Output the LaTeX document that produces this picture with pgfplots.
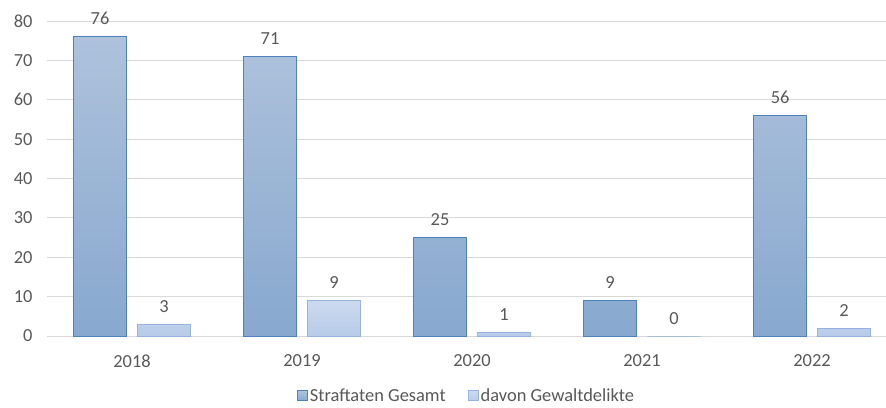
\documentclass[border=0pt]{standalone}
\usepackage{pgfplots}
\pgfplotsset{compat=1.18}
\usepackage{fontspec}
\setmainfont{Carlito}
\definecolor{txt}{HTML}{595959}
\definecolor{gridgray}{HTML}{D9D9D9}
\definecolor{aTop}{HTML}{AEC2DC}
\definecolor{aBot}{HTML}{88A8CF}
\definecolor{aEdge}{HTML}{4F81BD}
\definecolor{bTop}{HTML}{CCDAEE}
\definecolor{bBot}{HTML}{B7CBE8}
\definecolor{bEdge}{HTML}{95B3DE}
\newcommand{\lbl}{\fontsize{18.5}{21}\selectfont}
\begin{document}
\begin{tikzpicture}[x=1bp,y=1bp]
\path[use as bounding box] (-47,-71) rectangle (839,336);
\begin{axis}[
  at={(0,0)}, anchor=south west,
  scale only axis,
  width=839bp, height=315bp,
  ybar, bar width=0.312,
  xmin=-0.5, xmax=4.435,
  ymin=0, ymax=80,
  ytick={0,10,...,80},
  xtick=data,
  xticklabels={2018,2019,2020,2021,2022},
  axis y line*=left, axis x line*=bottom,
  y axis line style={draw=none},
  x axis line style={draw=gridgray, line width=1bp},
  major tick length=0pt,
  xmajorgrids=false, ymajorgrids=true,
  grid style={draw=gridgray, line width=0.9bp},
  tick label style={font=\lbl, text=txt},
  /pgf/number format/assume math mode=true,
  yticklabel style={xshift=-11bp},
  xticklabel style={yshift=-15bp},
  nodes near coords,
  nodes near coords style={font=\lbl, text=txt, yshift=8bp},
  legend style={at={(0.5,-0.19)}, anchor=center, draw=none, font=\lbl, text=txt,
    /tikz/every odd column/.append style={column sep=0bp},
    /tikz/every even column/.append style={column sep=20bp}},
  legend columns=2,
  legend image code/.code={\draw[#1] (0bp,-5bp) rectangle (10bp,5bp);},
]
\addplot[ybar, bar shift=-0.188, draw=aEdge, line width=1bp, top color=aTop, bottom color=aBot] coordinates {(0,76) (1,71) (2,25) (3,9) (4,56)};
\addplot[ybar, bar shift=0.188, draw=bEdge, line width=1bp, top color=bTop, bottom color=bBot] coordinates {(0,3) (1,9) (2,1) (3,0) (4,2)};
\legend{Straftaten Gesamt, davon Gewaltdelikte}
\end{axis}
\end{tikzpicture}
\end{document}
